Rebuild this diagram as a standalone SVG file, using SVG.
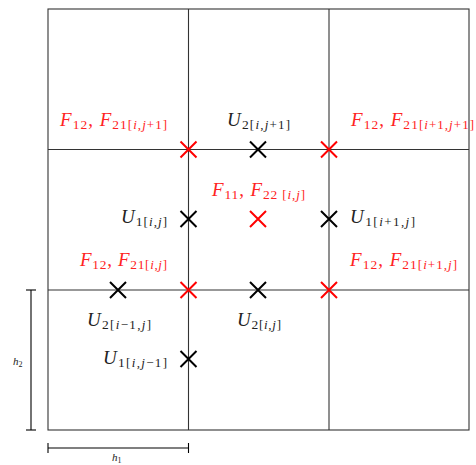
<svg xmlns="http://www.w3.org/2000/svg" width="476" height="465" viewBox="0 0 476 465">
<style>
.grid{stroke:#333;stroke-width:1.1;fill:none}
.xk{stroke:#000;stroke-width:2}
.xr{stroke:#f00;stroke-width:2}
.dim{stroke:#000;stroke-width:1.1}
text{font-family:"Liberation Serif","DejaVu Serif",serif;font-size:19px;fill:#222}
.red{fill:#f22}
.v{font-style:italic}
.s{font-size:13.5px}
.b{font-size:13px}
.i{font-style:italic}
.sm{font-size:11px;font-style:italic}
</style>
<defs>
<path id="x" d="M-8,-8L8,8M-8,8L8,-8"/>
</defs>
<g id="grid">
<rect class="grid" x="48" y="9" width="421" height="421"/>
<line class="grid" x1="188.5" y1="9" x2="188.5" y2="430"/>
<line class="grid" x1="329" y1="9" x2="329" y2="430"/>
<line class="grid" x1="48" y1="149.5" x2="469" y2="149.5"/>
<line class="grid" x1="48" y1="290" x2="469" y2="290"/>
</g>
<g id="crosses">
<use href="#x" class="xk" x="258" y="149.5"/>
<use href="#x" class="xk" x="188.5" y="219"/>
<use href="#x" class="xk" x="329" y="219"/>
<use href="#x" class="xk" x="118" y="290"/>
<use href="#x" class="xk" x="258" y="290"/>
<use href="#x" class="xk" x="188.5" y="359"/>
<use href="#x" class="xr" x="188.5" y="149.5"/>
<use href="#x" class="xr" x="329" y="149.5"/>
<use href="#x" class="xr" x="258" y="219"/>
<use href="#x" class="xr" x="188.5" y="290"/>
<use href="#x" class="xr" x="329" y="290"/>
</g>
<g id="labels">
<text class="red" x="60" y="126" textLength="107" lengthAdjust="spacing"><tspan class="v">F</tspan><tspan class="s" dy="3">12</tspan><tspan dy="-3">, </tspan><tspan class="v">F</tspan><tspan class="s" dy="3">21</tspan><tspan class="b">[<tspan class="i">i</tspan>,<tspan class="i">j</tspan>+1]</tspan></text>
<text x="227" y="126" textLength="63" lengthAdjust="spacing"><tspan class="v">U</tspan><tspan class="s" dy="3">2</tspan><tspan class="b">[<tspan class="i">i</tspan>,<tspan class="i">j</tspan>+1]</tspan></text>
<text class="red" x="351" y="126" textLength="123" lengthAdjust="spacing"><tspan class="v">F</tspan><tspan class="s" dy="3">12</tspan><tspan dy="-3">, </tspan><tspan class="v">F</tspan><tspan class="s" dy="3">21</tspan><tspan class="b">[<tspan class="i">i</tspan>+1,<tspan class="i">j</tspan>+1]</tspan></text>
<text class="red" x="212" y="196" textLength="93" lengthAdjust="spacing"><tspan class="v">F</tspan><tspan class="s" dy="3">11</tspan><tspan dy="-3">, </tspan><tspan class="v">F</tspan><tspan class="s" dy="3">22</tspan><tspan class="b"> [<tspan class="i">i</tspan>,<tspan class="i">j</tspan>]</tspan></text>
<text x="121" y="223" textLength="46" lengthAdjust="spacing"><tspan class="v">U</tspan><tspan class="s" dy="3">1</tspan><tspan class="b">[<tspan class="i">i</tspan>,<tspan class="i">j</tspan>]</tspan></text>
<text x="350" y="223" textLength="65" lengthAdjust="spacing"><tspan class="v">U</tspan><tspan class="s" dy="3">1</tspan><tspan class="b">[<tspan class="i">i</tspan>+1,<tspan class="i">j</tspan>]</tspan></text>
<text class="red" x="80" y="266" textLength="87" lengthAdjust="spacing"><tspan class="v">F</tspan><tspan class="s" dy="3">12</tspan><tspan dy="-3">, </tspan><tspan class="v">F</tspan><tspan class="s" dy="3">21</tspan><tspan class="b">[<tspan class="i">i</tspan>,<tspan class="i">j</tspan>]</tspan></text>
<text class="red" x="350" y="266" textLength="107" lengthAdjust="spacing"><tspan class="v">F</tspan><tspan class="s" dy="3">12</tspan><tspan dy="-3">, </tspan><tspan class="v">F</tspan><tspan class="s" dy="3">21</tspan><tspan class="b">[<tspan class="i">i</tspan>+1,<tspan class="i">j</tspan>]</tspan></text>
<text x="87" y="326" textLength="64" lengthAdjust="spacing"><tspan class="v">U</tspan><tspan class="s" dy="3">2</tspan><tspan class="b">[<tspan class="i">i</tspan>−1,<tspan class="i">j</tspan>]</tspan></text>
<text x="237" y="326" textLength="44" lengthAdjust="spacing"><tspan class="v">U</tspan><tspan class="s" dy="3">2</tspan><tspan class="b">[<tspan class="i">i</tspan>,<tspan class="i">j</tspan>]</tspan></text>
<text x="103" y="364" textLength="64" lengthAdjust="spacing"><tspan class="v">U</tspan><tspan class="s" dy="3">1</tspan><tspan class="b">[<tspan class="i">i</tspan>,<tspan class="i">j</tspan>−1]</tspan></text>
</g>
<g id="dims">
<line class="dim" x1="31" y1="290" x2="31" y2="430"/>
<line class="dim" x1="26" y1="290" x2="36" y2="290"/>
<line class="dim" x1="26" y1="430" x2="36" y2="430"/>
<line class="dim" x1="48" y1="448" x2="188.5" y2="448"/>
<line class="dim" x1="48" y1="443" x2="48" y2="453"/>
<line class="dim" x1="188.5" y1="443" x2="188.5" y2="453"/>
<text class="sm" x="13" y="365">h<tspan font-size="8" font-style="normal" dy="2">2</tspan></text>
<text class="sm" x="112" y="461">h<tspan font-size="8" font-style="normal" dy="2">1</tspan></text>
</g>
</svg>
